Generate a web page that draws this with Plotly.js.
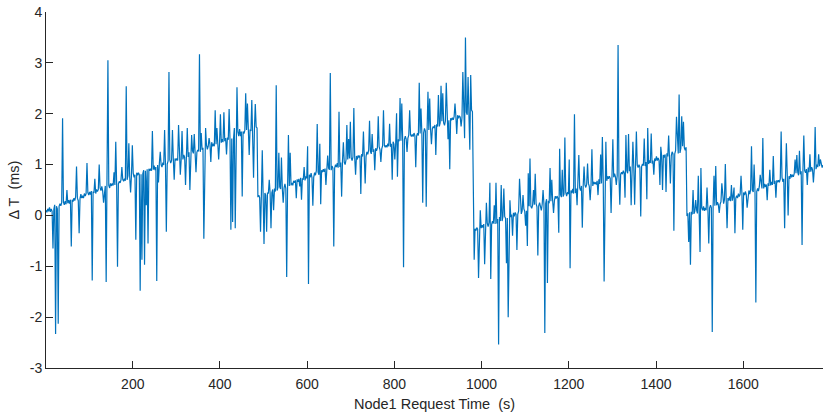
<!DOCTYPE html>
<html>
<head>
<meta charset="utf-8">
<script src="https://cdn.plot.ly/plotly-3.0.1.min.js"></script>
<style>html,body{margin:0;padding:0;background:#fff;}#chart{width:823px;height:416px;}</style>
</head>
<body>
<div id="chart"></div>
<script>
// Node1 request time (s), one row = 30 s
const time = [
1,3,5,7,9,11,13,15,17,19,21,23,25,27,29,
31,33,35,37,39,41,43,45,47,49,51,53,55,57,59,
61,63,65,67,69,71,73,75,77,79,81,83,85,87,89,
91,93,95,97,99,101,103,105,107,109,111,113,115,117,119,
121,123,125,127,129,131,133,135,137,139,141,143,145,147,149,
151,153,155,157,159,161,163,165,167,169,171,173,175,177,179,
181,183,185,187,189,191,193,195,197,199,201,203,205,207,209,
211,213,215,217,219,221,223,225,227,229,231,233,235,237,239,
241,243,245,247,249,251,253,255,257,259,261,263,265,267,269,
271,273,275,277,279,281,283,285,287,289,291,293,295,297,299,
301,303,305,307,309,311,313,315,317,319,321,323,325,327,329,
331,333,335,337,339,341,343,345,347,349,351,353,355,357,359,
361,363,365,367,369,371,373,375,377,379,381,383,385,387,389,
391,393,395,397,399,401,403,405,407,409,411,413,415,417,419,
421,423,425,427,429,431,433,435,437,439,441,443,445,447,449,
451,453,455,457,459,461,463,465,467,469,471,473,475,477,479,
481,483,485,487,489,491,493,495,497,499,501,503,505,507,509,
511,513,515,517,519,521,523,525,527,529,531,533,535,537,539,
541,543,545,547,549,551,553,555,557,559,561,563,565,567,569,
571,573,575,577,579,581,583,585,587,589,591,593,595,597,599,
601,603,605,607,609,611,613,615,617,619,621,623,625,627,629,
631,633,635,637,639,641,643,645,647,649,651,653,655,657,659,
661,663,665,667,669,671,673,675,677,679,681,683,685,687,689,
691,693,695,697,699,701,703,705,707,709,711,713,715,717,719,
721,723,725,727,729,731,733,735,737,739,741,743,745,747,749,
751,753,755,757,759,761,763,765,767,769,771,773,775,777,779,
781,783,785,787,789,791,793,795,797,799,801,803,805,807,809,
811,813,815,817,819,821,823,825,827,829,831,833,835,837,839,
841,843,845,847,849,851,853,855,857,859,861,863,865,867,869,
871,873,875,877,879,881,883,885,887,889,891,893,895,897,899,
901,903,905,907,909,911,913,915,917,919,921,923,925,927,929,
931,933,935,937,939,941,943,945,947,949,951,953,955,957,959,
961,963,965,967,969,971,973,975,977,979,981,983,985,987,989,
991,993,995,997,999,1001,1003,1005,1007,1009,1011,1013,1015,1017,1019,
1021,1023,1025,1027,1029,1031,1033,1035,1037,1039,1041,1043,1045,1047,1049,
1051,1053,1055,1057,1059,1061,1063,1065,1067,1069,1071,1073,1075,1077,1079,
1081,1083,1085,1087,1089,1091,1093,1095,1097,1099,1101,1103,1105,1107,1109,
1111,1113,1115,1117,1119,1121,1123,1125,1127,1129,1131,1133,1135,1137,1139,
1141,1143,1145,1147,1149,1151,1153,1155,1157,1159,1161,1163,1165,1167,1169,
1171,1173,1175,1177,1179,1181,1183,1185,1187,1189,1191,1193,1195,1197,1199,
1201,1203,1205,1207,1209,1211,1213,1215,1217,1219,1221,1223,1225,1227,1229,
1231,1233,1235,1237,1239,1241,1243,1245,1247,1249,1251,1253,1255,1257,1259,
1261,1263,1265,1267,1269,1271,1273,1275,1277,1279,1281,1283,1285,1287,1289,
1291,1293,1295,1297,1299,1301,1303,1305,1307,1309,1311,1313,1315,1317,1319,
1321,1323,1325,1327,1329,1331,1333,1335,1337,1339,1341,1343,1345,1347,1349,
1351,1353,1355,1357,1359,1361,1363,1365,1367,1369,1371,1373,1375,1377,1379,
1381,1383,1385,1387,1389,1391,1393,1395,1397,1399,1401,1403,1405,1407,1409,
1411,1413,1415,1417,1419,1421,1423,1425,1427,1429,1431,1433,1435,1437,1439,
1441,1443,1445,1447,1449,1451,1453,1455,1457,1459,1461,1463,1465,1467,1469,
1471,1473,1475,1477,1479,1481,1483,1485,1487,1489,1491,1493,1495,1497,1499,
1501,1503,1505,1507,1509,1511,1513,1515,1517,1519,1521,1523,1525,1527,1529,
1531,1533,1535,1537,1539,1541,1543,1545,1547,1549,1551,1553,1555,1557,1559,
1561,1563,1565,1567,1569,1571,1573,1575,1577,1579,1581,1583,1585,1587,1589,
1591,1593,1595,1597,1599,1601,1603,1605,1607,1609,1611,1613,1615,1617,1619,
1621,1623,1625,1627,1629,1631,1633,1635,1637,1639,1641,1643,1645,1647,1649,
1651,1653,1655,1657,1659,1661,1663,1665,1667,1669,1671,1673,1675,1677,1679,
1681,1683,1685,1687,1689,1691,1693,1695,1697,1699,1701,1703,1705,1707,1709,
1711,1713,1715,1717,1719,1721,1723,1725,1727,1729,1731,1733,1735,1737,1739,
1741,1743,1745,1747,1749,1751,1753,1755,1757,1759,1761,1763,1765,1767,1769,
1771,1773,1775,1777,1779,1781,1783
];

// Delta T (ms), same rows as time
const deltaT = [
0.10,0.06,0.13,0.08,0.16,0.07,0.13,0.08,-0.65,0.12,0.21,-2.33,0.18,0.13,-2.13,
0.18,0.23,0.19,0.25,1.91,0.26,0.21,0.28,0.22,0.50,0.24,0.30,0.23,0.31,-0.61,
0.31,0.27,0.34,0.29,0.37,0.96,0.34,0.29,-0.35,0.33,0.42,0.34,0.39,0.34,0.43,
0.38,0.43,1.03,0.45,0.40,0.46,0.41,0.48,-1.28,0.47,0.44,0.72,0.43,0.51,0.47,
0.51,1.00,0.54,0.49,0.57,0.48,0.25,0.49,0.58,-1.31,0.62,3.05,0.59,0.54,0.63,
0.58,0.63,0.59,0.85,0.60,1.45,0.61,-1.01,0.62,0.67,0.64,0.70,0.95,0.71,0.67,
0.72,0.68,2.54,0.70,0.78,1.42,0.75,0.45,0.79,1.38,0.83,0.75,0.80,-0.48,0.84,
0.79,0.84,0.80,-1.48,0.81,-0.87,0.82,0.89,-0.97,0.88,0.20,0.91,-0.55,0.92,0.88,
0.92,0.88,1.66,0.90,0.98,0.89,0.95,-1.29,0.99,0.65,1.03,1.25,1.00,0.95,1.04,
0.99,1.68,1.00,-0.32,1.01,1.07,2.82,1.09,1.03,1.08,1.68,1.11,0.70,1.12,1.08,
1.12,1.08,1.78,1.10,0.80,1.09,1.66,1.10,1.19,1.14,0.60,1.15,1.72,1.15,1.24,
0.50,1.25,1.58,1.27,1.22,1.60,1.23,0.85,1.24,1.29,1.26,3.17,1.25,1.62,1.29,
1.33,-0.46,1.36,1.72,1.39,1.30,1.36,1.52,1.40,1.05,1.44,1.36,1.41,1.36,2.07,
1.40,1.72,1.41,1.10,1.42,1.99,1.43,1.50,1.44,2.03,1.46,1.52,1.20,1.53,1.49,
2.09,1.49,-0.28,1.51,-0.13,1.50,1.72,-0.25,1.60,2.52,1.64,1.56,1.70,1.56,1.65,
0.37,1.65,1.61,1.67,2.40,1.68,2.20,1.70,1.19,1.69,1.66,2.27,1.65,0.74,1.69,
2.19,1.74,1.72,0.36,0.40,0.35,-0.32,0.41,1.28,0.39,-0.56,0.44,0.40,-0.32,0.45,
0.43,0.70,0.44,-0.25,0.45,0.51,0.10,0.53,0.47,2.56,0.49,0.55,1.23,0.56,0.52,
1.14,0.52,0.25,0.54,0.62,0.53,-1.21,0.54,1.58,0.58,1.23,0.59,0.64,0.59,0.68,
0.64,0.69,0.34,0.71,0.66,0.72,0.57,0.74,0.31,0.73,0.70,0.95,0.69,0.77,0.73,
1.36,-1.35,0.80,0.75,0.83,0.74,0.19,0.75,0.84,0.79,0.88,1.80,0.85,0.80,1.41,
0.22,0.89,0.85,0.91,0.86,0.92,0.60,0.94,1.18,0.93,0.90,2.80,0.89,0.97,0.93,
-0.61,0.93,1.00,0.95,1.03,0.94,2.04,0.95,1.04,0.37,1.08,1.44,1.05,1.00,1.09,
1.78,1.10,1.50,1.12,1.84,1.13,1.08,1.15,2.11,1.14,0.80,1.17,1.10,1.18,1.14,
1.18,0.42,1.21,1.16,1.65,1.15,0.63,1.16,1.25,1.20,1.29,1.86,1.26,1.21,1.60,
1.25,1.30,0.89,1.32,1.27,1.33,1.95,1.35,1.29,1.05,1.31,1.37,2.07,1.38,1.34,
1.38,1.34,1.41,1.36,1.80,1.35,1.41,0.70,1.45,1.40,1.10,1.41,2.01,0.76,1.50,
1.46,2.31,1.47,2.20,1.48,-1.02,1.49,1.56,1.50,1.25,1.52,1.58,2.07,1.59,1.55,
1.59,1.55,1.62,1.57,0.95,1.56,1.62,1.57,2.61,1.61,2.10,1.62,0.25,1.62,1.71,
1.66,0.17,1.67,2.43,1.68,2.30,1.69,1.40,1.70,1.75,1.72,1.78,1.19,1.79,1.75,
2.37,1.75,1.82,2.55,1.85,2.40,1.82,1.77,1.86,2.61,1.90,1.50,1.87,0.91,1.91,
1.87,1.92,1.88,1.94,2.20,1.95,1.60,1.97,1.91,1.96,1.93,1.75,1.92,2.82,1.96,
1.52,3.50,2.03,1.98,2.72,1.97,1.29,2.76,2.07,2.04,-0.29,-0.87,-0.26,-0.30,-0.24,
-0.27,-1.23,-0.26,0.10,-0.25,-0.19,-0.24,-0.17,-0.96,-0.18,0.25,-0.15,-0.22,-0.14,0.64,
-1.25,-0.18,-0.11,-0.16,0.20,-0.17,0.64,-0.16,-0.07,-2.54,-0.03,-0.11,0.60,-0.11,-0.02,
0.53,-0.02,-0.06,-0.94,-0.05,-2.00,-0.04,0.30,-0.03,0.02,-0.40,0.05,-0.02,0.06,0.02,
-0.68,0.02,0.09,0.72,0.12,0.03,0.09,0.40,0.13,0.08,-0.20,0.09,-0.60,0.83,0.18,
1.12,0.18,0.14,0.20,0.50,0.21,0.82,0.23,0.17,-0.79,0.19,0.25,0.18,0.10,0.22,
0.50,0.22,-2.31,0.24,0.32,-1.33,0.29,0.24,0.93,0.28,0.70,0.29,0.05,0.29,0.38,
0.33,0.38,0.34,-0.34,1.31,0.41,0.36,0.90,0.37,0.42,1.53,0.45,0.38,0.46,0.42,
1.10,-1.04,0.49,0.44,0.52,0.43,1.99,0.44,0.53,0.20,0.57,1.19,0.54,0.49,0.58,
-0.24,0.58,0.96,0.60,0.55,0.61,1.02,0.63,0.57,0.30,0.59,1.30,0.58,0.66,0.62,
0.65,0.61,0.68,0.40,0.71,0.62,1.20,0.63,1.54,0.67,-1.30,0.68,1.45,0.68,0.77,
0.72,0.77,0.73,0.05,0.74,1.50,0.75,0.82,0.76,0.60,0.78,3.35,0.77,0.21,0.81,
0.85,0.81,0.88,0.83,0.35,1.58,0.88,0.83,1.60,0.87,0.96,0.20,0.93,1.45,0.97,
0.21,0.97,1.65,0.99,0.94,1.00,0.95,-0.02,0.96,1.01,0.98,1.51,0.97,1.05,0.32,
1.72,1.01,1.08,1.03,1.61,1.02,1.08,0.80,1.12,1.07,1.16,1.08,1.13,1.08,0.60,
1.35,1.17,0.50,1.19,1.14,1.20,0.46,1.22,1.16,1.57,1.18,0.63,1.17,1.25,1.21,
-0.30,1.21,1.28,1.94,1.31,1.22,2.38,1.23,1.32,1.95,1.36,1.84,1.33,1.28,1.34,
-0.01,0.04,-0.52,0.06,-0.97,0.07,0.02,0.50,0.03,0.08,0.30,0.11,0.04,0.78,0.08,
-0.72,0.93,0.15,0.10,0.18,0.09,0.15,0.10,0.55,0.14,-0.55,0.15,0.20,0.15,-2.29,
0.18,0.78,0.19,0.97,0.20,0.26,0.21,0.05,0.22,0.27,0.63,0.30,0.23,0.31,1.01,
0.31,-0.25,0.34,0.29,0.37,0.28,0.60,0.29,0.38,0.55,-0.35,0.34,0.39,0.34,0.43,
0.37,0.42,0.78,0.44,-0.28,0.45,0.40,0.47,0.41,0.15,0.43,0.49,0.42,0.50,1.36,
0.50,0.46,1.00,0.48,-1.71,0.47,0.53,0.48,0.57,0.80,0.61,0.53,1.52,0.53,0.62,
0.56,0.61,0.30,0.63,0.58,0.90,0.59,0.66,0.60,1.17,0.62,0.68,0.35,0.69,0.65,
0.69,0.65,0.72,1.65,0.75,0.66,0.72,-0.25,0.76,1.42,0.80,0.00,0.77,0.72,0.81,
0.75,0.80,0.76,0.82,1.10,0.83,1.19,0.85,0.79,1.27,0.81,0.87,-0.58,0.88,1.57,
0.88,0.84,0.91,0.60,0.94,0.85,1.20,0.86,0.95,0.90,0.65,0.91,1.74,0.91,1.00,
0.95,1.20,0.97,1.10,0.99,0.94,0.99
];

const xTickVals = [200, 400, 600, 800, 1000, 1200, 1400, 1600];
const xTickLabels = ['200', '400', '600', '800', '1000', '1200', '1400', '1600'];
const yTickVals = [-3, -2, -1, 0, 1, 2, 3, 4];
const yTickLabels = ['-3', '-2', '-1', '0', '1', '2', '3', '4'];

const axisColor = '#262626';
const fontFam = '"Liberation Sans", Arial, Helvetica, sans-serif';

const trace = {
  x: time,
  y: deltaT,
  type: 'scatter',
  mode: 'lines',
  line: {color: '#0072BD', width: 1.2},
  hoverinfo: 'skip'
};

const layout = {
  width: 823,
  height: 416,
  margin: {l: 46, r: 0, t: 12, b: 48},
  paper_bgcolor: '#ffffff',
  plot_bgcolor: '#ffffff',
  showlegend: false,
  font: {family: fontFam, size: 14, color: axisColor},
  xaxis: {
    range: [1, 1783],
    tickmode: 'array',
    tickvals: xTickVals,
    ticktext: xTickLabels,
    ticks: 'inside',
    ticklen: 7,
    tickwidth: 1,
    tickcolor: axisColor,
    ticklabelstandoff: 3,
    showline: true,
    linecolor: axisColor,
    linewidth: 1,
    showgrid: false,
    zeroline: false,
    mirror: false,
    tickfont: {family: fontFam, size: 14, color: axisColor},
    title: {text: 'Node1 Request Time\u00a0 (s)', font: {family: fontFam, size: 14.5, color: axisColor}, standoff: 8}
  },
  yaxis: {
    range: [-3, 4],
    tickmode: 'array',
    tickvals: yTickVals,
    ticktext: yTickLabels,
    ticks: 'inside',
    ticklen: 7,
    tickwidth: 1,
    tickcolor: axisColor,
    showline: true,
    linecolor: axisColor,
    linewidth: 1,
    showgrid: false,
    zeroline: false,
    mirror: false,
    tickfont: {family: fontFam, size: 14, color: axisColor},
    title: {text: '\u0394 T\u00a0 (ms)', font: {family: fontFam, size: 14.5, color: axisColor}, standoff: 6}
  }
};

Plotly.newPlot('chart', [trace], layout, {displayModeBar: false, staticPlot: true});
</script>
</body>
</html>
